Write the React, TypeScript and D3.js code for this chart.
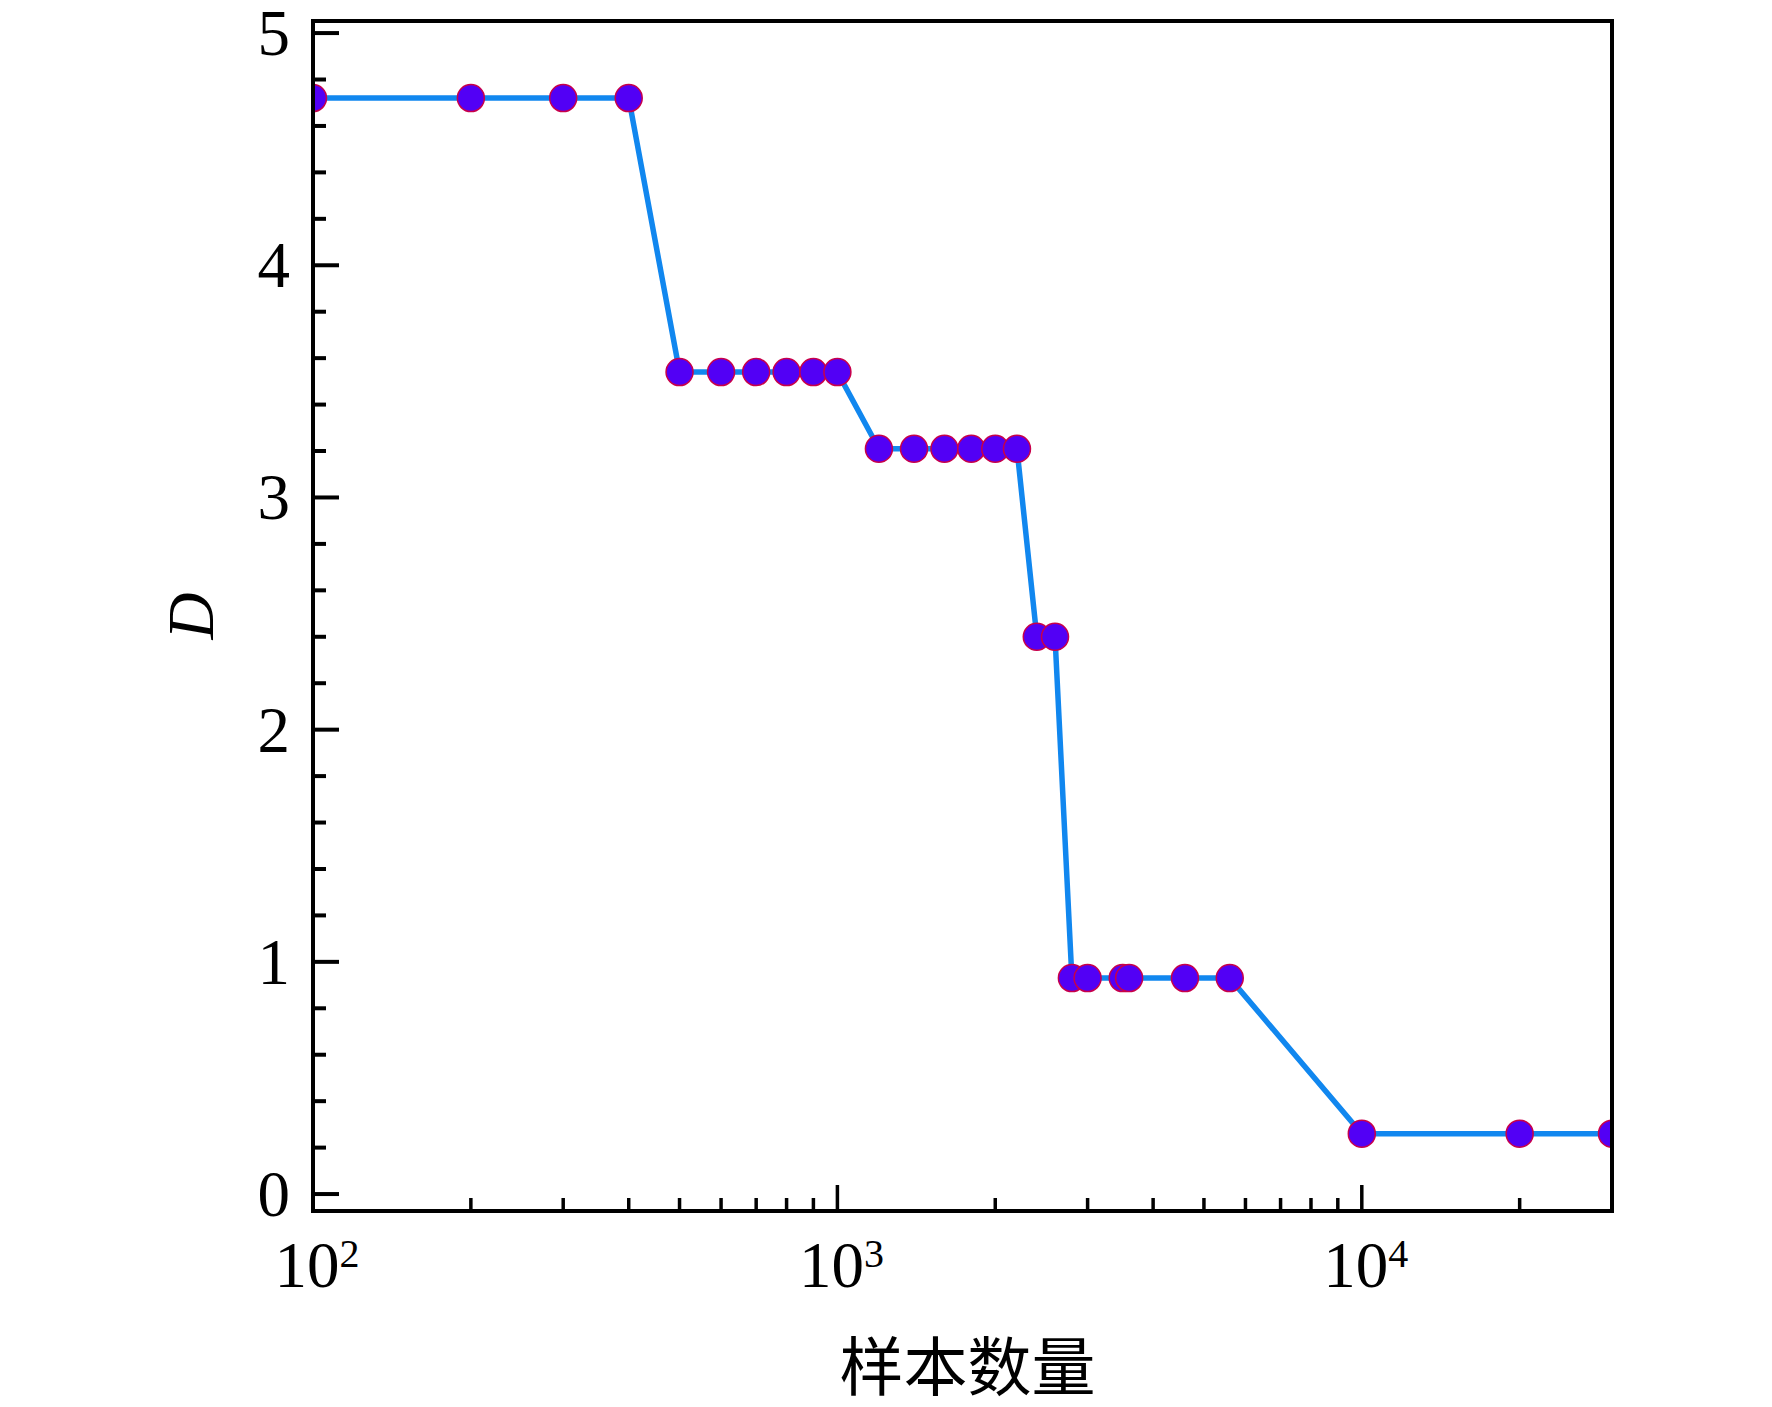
import React, { useEffect, useRef } from 'react';
import * as d3 from 'd3';

// sample counts and the D value at each
const sampleCounts = [
  100, 200, 300, 400,
  500, 600, 700, 800, 900, 1000,
  1200, 1400, 1600, 1800, 2000, 2200,
  2400, 2600,
  2800, 3000, 3500, 3600, 4600, 5600,
  10000, 20000, 30000,
];
const dValues = [
  4.72, 4.72, 4.72, 4.72,
  3.54, 3.54, 3.54, 3.54, 3.54, 3.54,
  3.21, 3.21, 3.21, 3.21, 3.21, 3.21,
  2.40, 2.40,
  0.93, 0.93, 0.93, 0.93, 0.93, 0.93,
  0.26, 0.26, 0.26,
];
const yTickValues = [0, 1, 2, 3, 4, 5];
const xMajorExponents = [2, 3, 4];
const xLabel = '样本数量';
const yLabel = 'D';

export default function App() {
  const svgRef = useRef<SVGSVGElement>(null);

  useEffect(() => {
    if (!svgRef.current) return;
    const svg = d3.select(svgRef.current);
    svg.selectAll('*').remove();

    const left = 313;
    const right = 1612;
    const top = 21;
    const bottom = 1211;

    const x = d3.scaleLog().domain([100, 30000]).range([left, right]);
    const y = d3.scaleLinear().domain([-0.073, 5.052]).range([bottom, top]);

    const serif = "'Times New Roman', 'Liberation Serif', Tinos, serif";

    // clip for the data
    svg.append('defs').append('clipPath').attr('id', 'plot-clip')
      .append('rect')
      .attr('x', left).attr('y', top)
      .attr('width', right - left).attr('height', bottom - top);

    const data = sampleCounts.map((n, i) => ({ n, d: dValues[i] }));

    const plot = svg.append('g').attr('clip-path', 'url(#plot-clip)');

    const line = d3.line<{ n: number; d: number }>()
      .x(p => x(p.n))
      .y(p => y(p.d));

    plot.append('path')
      .datum(data)
      .attr('d', line)
      .attr('fill', 'none')
      .attr('stroke', '#1187ef')
      .attr('stroke-width', 5.5)
      .attr('stroke-linejoin', 'round');

    plot.selectAll('.pt')
      .data(data)
      .enter()
      .append('circle')
      .attr('class', 'pt')
      .attr('cx', p => x(p.n))
      .attr('cy', p => y(p.d))
      .attr('r', 13.5)
      .attr('fill', '#5200f5')
      .attr('stroke', '#c8004a')
      .attr('stroke-width', 1.5);

    // y ticks: minor every 0.2, major at integers, inward
    const yMinor = d3.range(0, 5.0001, 0.2);
    svg.append('g').selectAll('line')
      .data(yMinor)
      .enter()
      .append('line')
      .attr('x1', left)
      .attr('x2', v => left + (Math.abs(v - Math.round(v)) < 1e-6 ? 26 : 13))
      .attr('y1', v => y(v))
      .attr('y2', v => y(v))
      .attr('stroke', '#000')
      .attr('stroke-width', 4);

    svg.append('g').selectAll('text')
      .data(yTickValues)
      .enter()
      .append('text')
      .attr('x', 290)
      .attr('y', v => y(v) + 22)
      .attr('text-anchor', 'end')
      .style('font-family', serif)
      .attr('font-size', 65)
      .attr('fill', '#000')
      .text(v => String(v));

    // x ticks on log scale
    const xTicks: number[] = [];
    for (let e = 2; e <= 4; e++) {
      for (let m = 1; m <= 9; m++) {
        const v = m * Math.pow(10, e);
        if (v > 100 && v < 30000) xTicks.push(v);
      }
    }
    svg.append('g').selectAll('line')
      .data(xTicks)
      .enter()
      .append('line')
      .attr('x1', v => x(v))
      .attr('x2', v => x(v))
      .attr('y1', bottom)
      .attr('y2', v => bottom - (Math.abs(Math.log10(v) - Math.round(Math.log10(v))) < 1e-9 ? 26 : 13))
      .attr('stroke', '#000')
      .attr('stroke-width', 3.5);

    const xLabels = svg.append('g').selectAll('text')
      .data(xMajorExponents)
      .enter()
      .append('text')
      .attr('x', e => x(Math.pow(10, e)) + 4)
      .attr('y', 1287)
      .attr('text-anchor', 'middle')
      .style('font-family', serif)
      .attr('font-size', 65)
      .attr('fill', '#000');
    xLabels.append('tspan').text('10');
    xLabels.append('tspan')
      .attr('font-size', 40)
      .attr('dy', -20)
      .text(e => String(e));

    // frame
    svg.append('rect')
      .attr('x', left).attr('y', top)
      .attr('width', right - left).attr('height', bottom - top)
      .attr('fill', 'none')
      .attr('stroke', '#000')
      .attr('stroke-width', 4);

    // axis titles
    svg.append('text')
      .attr('x', (left + right) / 2 + 5)
      .attr('y', 1390)
      .attr('text-anchor', 'middle')
      .style('font-family', "'Noto Sans CJK SC', sans-serif")
      .attr('font-size', 64)
      .attr('fill', '#000')
      .text(xLabel);

    svg.append('text')
      .attr('transform', 'translate(213,616) rotate(-90)')
      .attr('text-anchor', 'middle')
      .style('font-family', serif)
      .attr('font-style', 'italic')
      .attr('font-size', 65)
      .attr('fill', '#000')
      .text(yLabel);
  }, []);

  return (
    <svg
      ref={svgRef}
      width="1772"
      height="1407"
      style={{ position: 'absolute', left: 0, top: 0, background: '#fff' }}
    ></svg>
  );
}
